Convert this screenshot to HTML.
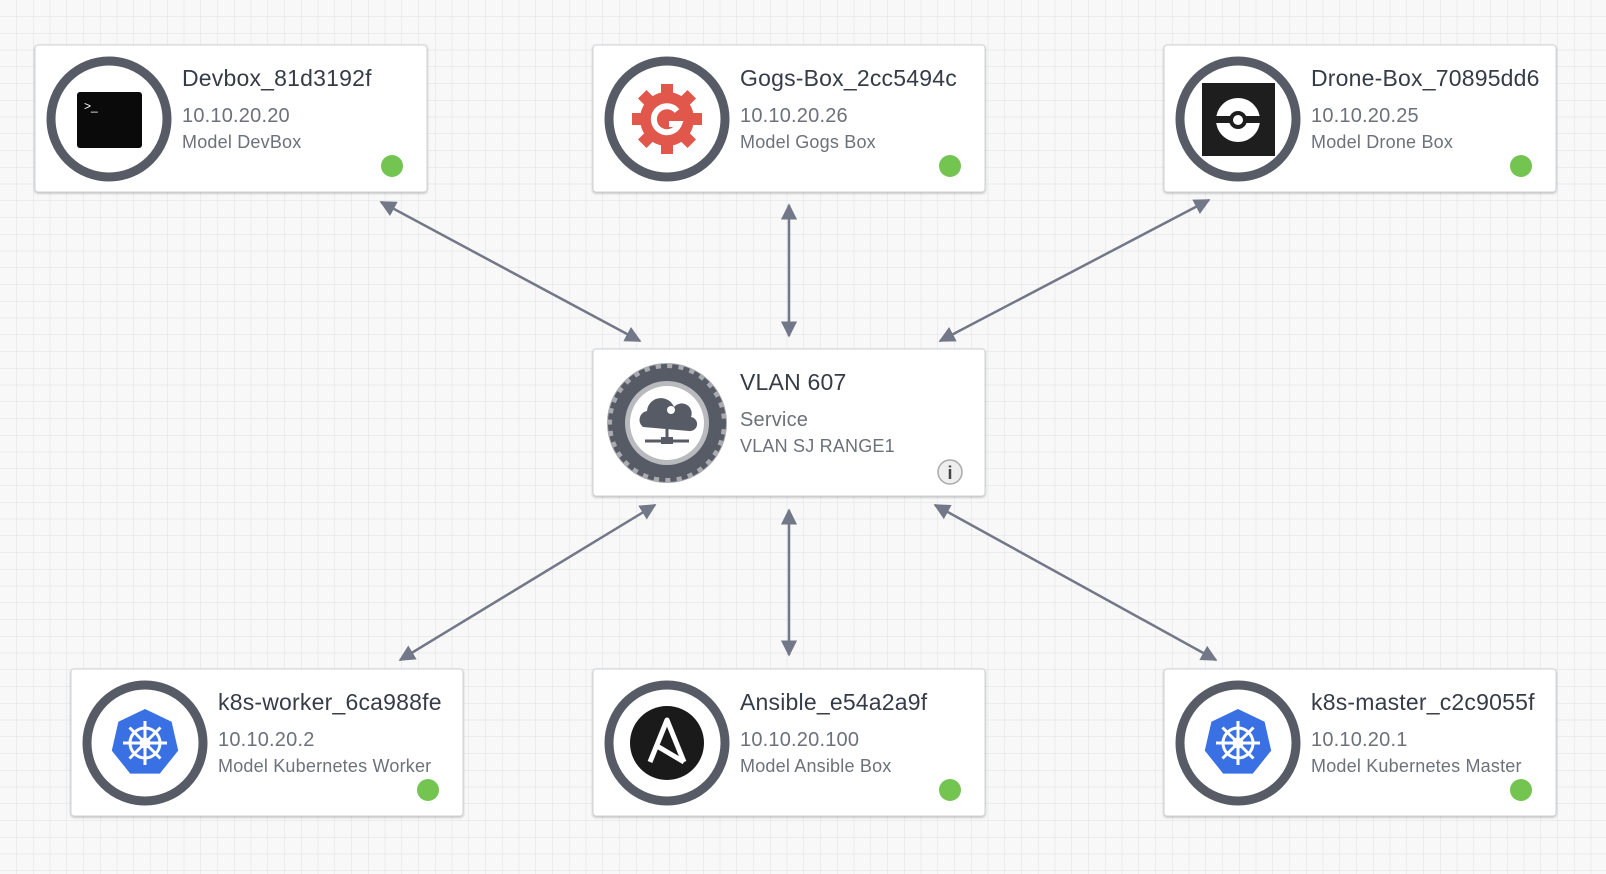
<!DOCTYPE html>
<html><head><meta charset="utf-8"><style>
html,body{margin:0;padding:0;width:1606px;height:874px;overflow:hidden;background:#f8f8f8}
svg text{font-family:"Liberation Sans",sans-serif}
</style></head><body>
<svg width="1606" height="874" viewBox="0 0 1606 874" xmlns="http://www.w3.org/2000/svg">
<defs>
<pattern id="g" width="16.75" height="16.75" patternUnits="userSpaceOnUse"><path d="M16.75 0V16.75H0" fill="none" stroke="#dde0e3" stroke-width="1"/></pattern>
<marker id="a" viewBox="0 0 10 10" refX="9" refY="5" markerWidth="6.5" markerHeight="6.5" orient="auto-start-reverse"><path d="M0 0L10 5L0 10z" fill="#737888"/></marker>
<filter id="sh" x="-5%" y="-5%" width="110%" height="115%"><feDropShadow dx="0" dy="1" stdDeviation="1" flood-color="#000" flood-opacity="0.25"/></filter>
<g id="k8s"><polygon points="0,-34 26.6,-21.2 33.2,7.6 14.8,30.6 -14.8,30.6 -33.2,7.6 -26.6,-21.2" fill="#3970e4"/>
<g stroke="#fff" stroke-width="3" fill="none"><circle r="15"/><circle r="4"/>
<path d="M0-22V22M-22 0H22M-15.5-15.5L15.5 15.5M15.5-15.5L-15.5 15.5"/></g></g>
</defs>
<rect width="1606" height="874" fill="url(#g)"/>
<g stroke="#737888" stroke-width="2.5" marker-start="url(#a)" marker-end="url(#a)">
<line x1="381" y1="202" x2="640" y2="341"/>
<line x1="789" y1="205" x2="789" y2="336"/>
<line x1="1209" y1="200" x2="940" y2="341"/>
<line x1="655" y1="505" x2="400" y2="660"/>
<line x1="789" y1="510" x2="789" y2="655"/>
<line x1="935" y1="505" x2="1216" y2="660"/>
</g>
<g filter="url(#sh)" fill="#fff" stroke="#cfd2d6">
<rect x="35" y="45" width="392" height="147" rx="3"/>
<rect x="593" y="45" width="392" height="147" rx="3"/>
<rect x="1164" y="45" width="392" height="147" rx="3"/>
<rect x="593" y="349" width="392" height="147" rx="3"/>
<rect x="71" y="669" width="392" height="147" rx="3"/>
<rect x="593" y="669" width="392" height="147" rx="3"/>
<rect x="1164" y="669" width="392" height="147" rx="3"/>
</g>
<g fill="none" stroke="#575b65" stroke-width="9">
<circle cx="109" cy="119" r="58"/><circle cx="667" cy="119" r="58"/><circle cx="1238" cy="119" r="58"/>
<circle cx="145" cy="743" r="58"/><circle cx="667" cy="743" r="58"/><circle cx="1238" cy="743" r="58"/>
</g>
<!-- icons -->
<rect x="77" y="92" width="65" height="56" rx="3" fill="#0a0a0a"/>
<text x="84" y="110" fill="#fff" font-size="12">&gt;_</text>
<g transform="translate(667,119)">
<g fill="#e2574c"><circle r="27"/>
<g id="t"><rect x="-6" y="-35" width="12" height="12"/></g>
<use href="#t" transform="rotate(45)"/><use href="#t" transform="rotate(90)"/><use href="#t" transform="rotate(135)"/><use href="#t" transform="rotate(180)"/><use href="#t" transform="rotate(225)"/><use href="#t" transform="rotate(270)"/><use href="#t" transform="rotate(315)"/></g>
<path d="M10-8A13 13 0 1 0 12 5H2" fill="none" stroke="#fff" stroke-width="6"/>
</g>
<rect x="1202" y="83" width="73" height="73" fill="#1e1e1e"/>
<circle cx="1238" cy="120" r="22" fill="#fff"/><rect x="1216" y="116" width="44" height="7" fill="#1e1e1e"/><circle cx="1238" cy="120" r="9" fill="#1e1e1e"/><circle cx="1238" cy="120" r="5" fill="#fff"/>
<g transform="translate(667,423)">
<circle r="60" fill="#a9abb0"/><circle r="55" fill="#575b65" stroke="#575b65" stroke-width="8" stroke-dasharray="6 5"/>
<circle r="42" fill="#b8babd"/><circle r="37" fill="#fff"/>
<path d="M-24 4a9 9 0 0 1 4-16a14 14 0 0 1 27-4a10 10 0 0 1 17 10a7 7 0 0 1-2 14z" fill="#575b65"/>
<circle cx="4" cy="-13" r="4" fill="#fff"/>
<path d="M0 4V16M-22 18H22" stroke="#575b65" stroke-width="3"/><rect x="-6" y="14" width="12" height="7" fill="#575b65"/>
</g>
<use href="#k8s" x="145" y="743"/>
<use href="#k8s" x="1238" y="743"/>
<circle cx="667" cy="743" r="37" fill="#1a1a1a"/>
<path d="M650 762L667 720L684 762M657 746L684 762" fill="none" stroke="#fff" stroke-width="5" stroke-linejoin="round"/>
<!-- text -->
<g font-size="23" fill="#363c47" letter-spacing="0.2">
<text x="182" y="86">Devbox_81d3192f</text>
<text x="740" y="86">Gogs-Box_2cc5494c</text>
<text x="1311" y="86">Drone-Box_70895dd6</text>
<text x="740" y="390">VLAN 607</text>
<text x="218" y="710">k8s-worker_6ca988fe</text>
<text x="740" y="710">Ansible_e54a2a9f</text>
<text x="1311" y="710">k8s-master_c2c9055f</text>
</g>
<g font-size="20" fill="#6c717a" letter-spacing="0.2">
<text x="182" y="122">10.10.20.20</text><text x="740" y="122">10.10.20.26</text><text x="1311" y="122">10.10.20.25</text>
<text x="740" y="426">Service</text>
<text x="218" y="746">10.10.20.2</text><text x="740" y="746">10.10.20.100</text><text x="1311" y="746">10.10.20.1</text>
</g>
<g font-size="18" fill="#6c717a" letter-spacing="0.2">
<text x="182" y="148">Model DevBox</text><text x="740" y="148">Model Gogs Box</text><text x="1311" y="148">Model Drone Box</text>
<text x="740" y="452">VLAN SJ RANGE1</text>
<text x="218" y="772">Model Kubernetes Worker</text><text x="740" y="772">Model Ansible Box</text><text x="1311" y="772">Model Kubernetes Master</text>
</g>
<g fill="#74c452">
<circle cx="392" cy="166" r="11"/><circle cx="950" cy="166" r="11"/><circle cx="1521" cy="166" r="11"/>
<circle cx="428" cy="790" r="11"/><circle cx="950" cy="790" r="11"/><circle cx="1521" cy="790" r="11"/>
</g>
<circle cx="950" cy="472" r="12" fill="#eee" stroke="#aaa" stroke-width="1.5"/>
<text x="950" y="479" font-size="18" text-anchor="middle" fill="#444" font-weight="bold">i</text>
</svg>
</body></html>
